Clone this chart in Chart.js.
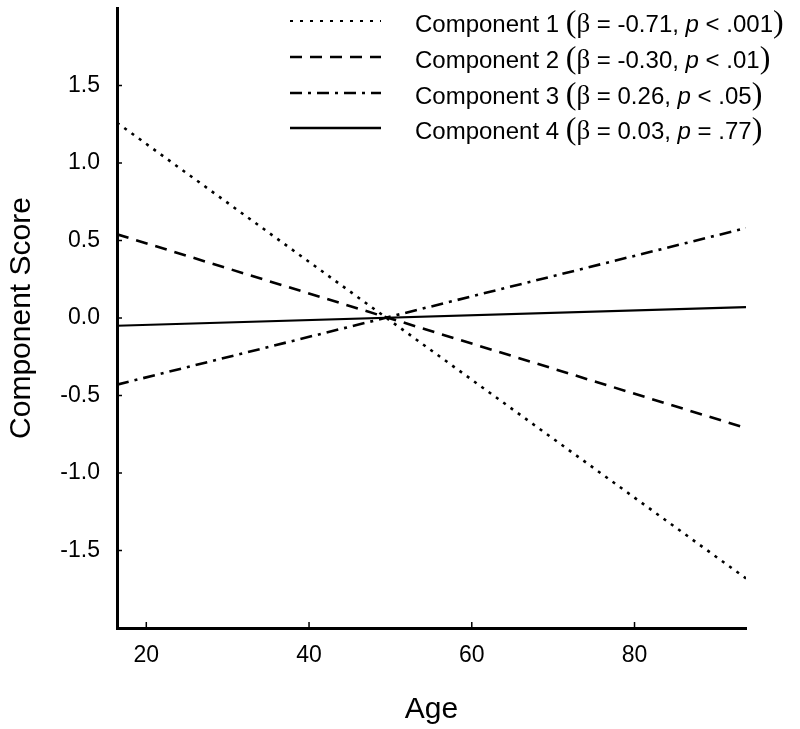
<!DOCTYPE html>
<html>
<head>
<meta charset="utf-8">
<script src="https://cdn.jsdelivr.net/npm/chart.js@4.4.1/dist/chart.umd.min.js"></script>
<style>
  html, body { margin: 0; padding: 0; background: #fff; }
  #wrap { position: relative; width: 800px; height: 729px; }
  #legend { position: absolute; left: 0; top: 0; width: 800px; height: 150px; pointer-events: none; }
  .row { position: absolute; left: 290px; height: 36px; width: 510px; }
  .row svg { position: absolute; left: 0; top: 0; }
  .txt { position: absolute; left: 125px; top: 0; white-space: nowrap; font-family: "Liberation Sans", Arial, sans-serif; font-size: 24px; color: #000; line-height: 36px; }
  .par { font-family: "Liberation Serif", "Times New Roman", serif; font-size: 32px; }
  .beta { font-family: "Liberation Serif", "Times New Roman", serif; font-size: 27px; }
  .it { font-style: italic; }
</style>
</head>
<body>
<div id="wrap">
  <canvas id="c" width="800" height="729"></canvas>
  <div id="legend"></div>
</div>
<script>
// ---- data ----
const ages = [16.4, 93.7];
const comp1 = [1.26, -1.68];
const comp2 = [0.54, -0.71];
const comp3 = [-0.43, 0.58];
const comp4 = [-0.05, 0.07];
const seriesNames = ['Component 1', 'Component 2', 'Component 3', 'Component 4'];
const betas = ['-0.71', '-0.30', '0.26', '0.03'];
const pSigns = ['<', '<', '<', '='];
const pVals = ['.001', '.01', '.05', '.77'];
const xTicks = [20, 40, 60, 80];
const yTicks = [-1.5, -1.0, -0.5, 0.0, 0.5, 1.0, 1.5];
const dashes = [[3, 6], [12, 8], [12, 6, 3, 6], []];

const seriesVals = [comp1, comp2, comp3, comp4];
const FONT = '"Liberation Sans", Arial, sans-serif';

const datasets = seriesVals.map((vals, i) => ({
  label: seriesNames[i],
  data: ages.map((a, j) => ({ x: a, y: vals[j] })),
  showLine: true,
  borderColor: '#000',
  backgroundColor: '#000',
  borderWidth: i === 3 ? 2.2 : 2.6,
  borderDash: dashes[i],
  pointRadius: 0,
  pointHoverRadius: 0,
  fill: false,
  tension: 0
}));

const innerTicks = {
  id: 'innerTicks',
  afterDraw(chart) {
    const ctx = chart.ctx;
    const xs = chart.scales.x, ys = chart.scales.y;
    ctx.save();
    ctx.strokeStyle = '#000';
    ctx.lineWidth = 1.5;
    ctx.beginPath();
    xs.ticks.forEach(t => {
      const px = xs.getPixelForValue(t.value);
      ctx.moveTo(px, xs.top);
      ctx.lineTo(px, xs.top - 6);
    });
    ys.ticks.forEach(t => {
      const py = ys.getPixelForValue(t.value);
      ctx.moveTo(ys.right, py);
      ctx.lineTo(ys.right + 5, py);
    });
    ctx.stroke();
    ctx.restore();
  }
};

new Chart(document.getElementById('c'), {
  type: 'scatter',
  data: { datasets },
  options: {
    responsive: false,
    animation: false,
    events: [],
    layout: { padding: { top: 8, right: 54, left: 0, bottom: 0 } },
    plugins: { legend: { display: false }, tooltip: { enabled: false } },
    scales: {
      x: {
        type: 'linear',
        min: ages[0],
        max: ages[ages.length - 1],
        afterBuildTicks: s => { s.ticks = xTicks.map(v => ({ value: v })); },
        afterFit: s => { s.height = 101; s.paddingLeft = 0; s.paddingRight = 0; },
        grid: { display: true, drawOnChartArea: false, drawTicks: false },
        border: { display: true, color: '#000', width: 3 },
        ticks: { color: '#000', font: { family: FONT, size: 23 }, padding: 14, maxRotation: 0, callback: v => String(v) },
        title: { display: true, text: 'Age', color: '#000', font: { family: FONT, size: 30 }, padding: { top: 4, bottom: 1 } }
      },
      y: {
        type: 'linear',
        min: -2,
        max: 2,
        afterBuildTicks: s => { s.ticks = yTicks.map(v => ({ value: v })); },
        afterFit: s => { s.width = 117; s.paddingTop = 0; s.paddingBottom = 0; },
        grid: { display: true, drawOnChartArea: false, drawTicks: false },
        border: { display: true, color: '#000', width: 3 },
        ticks: { color: '#000', font: { family: FONT, size: 23 }, padding: 17, callback: v => Number(v).toFixed(1) },
        title: { display: true, text: 'Component Score', color: '#000', font: { family: FONT, size: 30 }, padding: { top: 4, bottom: 4 } }
      }
    }
  },
  plugins: [innerTicks]
});

// ---- legend (HTML) ----
const rowTops = [3, 39, 75, 110];
const legend = document.getElementById('legend');
seriesNames.forEach((name, i) => {
  const row = document.createElement('div');
  row.className = 'row';
  row.style.top = rowTops[i] + 'px';
  const dash = i === 0 ? '3 7' : (dashes[i].length ? dashes[i].join(' ') : 'none');
  row.innerHTML =
    '<svg width="100" height="36"><line x1="0" y1="18" x2="91" y2="18" stroke="#000" stroke-width="' + (i === 0 ? 2.2 : 2.6) + '" stroke-dasharray="' + dash + '"/></svg>' +
    '<span class="txt">' + name + ' <span class="par">(</span><span class="beta">β</span> = ' + betas[i] +
    ', <span class="it">p</span> ' + pSigns[i] + ' ' + pVals[i] + '<span class="par">)</span></span>';
  legend.appendChild(row);
});
</script>
</body>
</html>
